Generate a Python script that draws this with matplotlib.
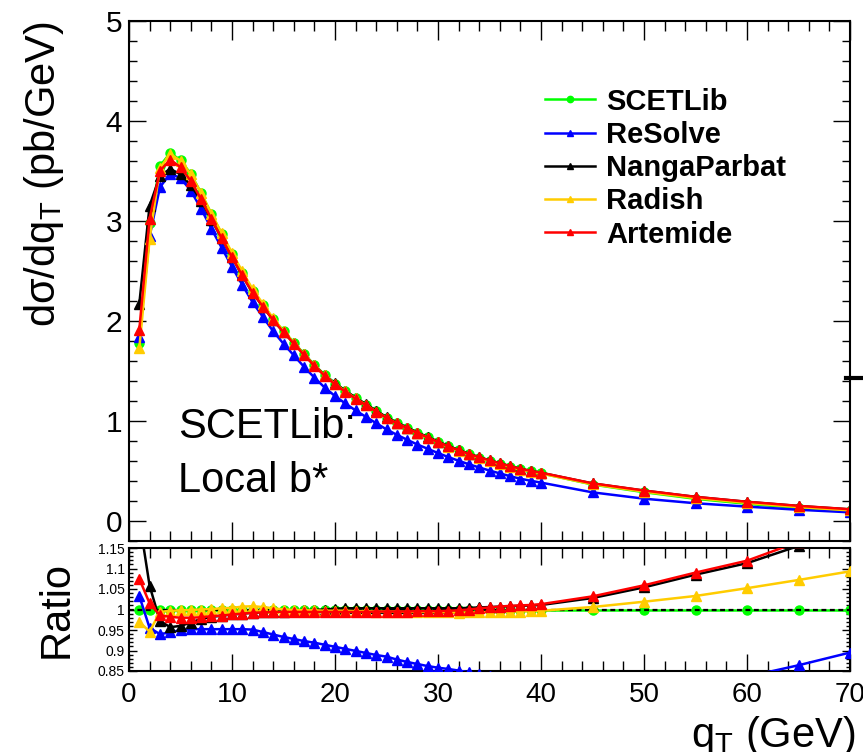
import matplotlib
matplotlib.use('Agg')
import matplotlib.pyplot as plt
from matplotlib.ticker import MultipleLocator, FuncFormatter
from matplotlib.lines import Line2D
import numpy as np

plt.rcParams['font.family'] = ['Liberation Sans', 'DejaVu Sans']
plt.rcParams['mathtext.fontset'] = 'custom'
plt.rcParams['mathtext.rm'] = 'Liberation Sans'
plt.rcParams['mathtext.it'] = 'Liberation Sans:italic'

# ---------------- data ----------------
qT = list(range(1, 41)) + [45, 50, 55, 60, 65, 70]

scetlib = [1.78, 2.98, 3.55, 3.68, 3.61, 3.47, 3.28, 3.07, 2.87, 2.67,
           2.48, 2.30, 2.16, 2.02, 1.90, 1.785, 1.67, 1.56, 1.46, 1.375,
           1.30, 1.23, 1.165, 1.10, 1.035, 0.982, 0.932, 0.882, 0.838, 0.792,
           0.748, 0.708, 0.670, 0.635, 0.603, 0.573, 0.544, 0.517, 0.496, 0.477,
           0.365, 0.288, 0.222, 0.172, 0.130, 0.097]

ratio_resolve = [1.033, 0.955, 0.940, 0.944, 0.950, 0.952, 0.952, 0.952, 0.952, 0.952,
                 0.952, 0.951, 0.945, 0.939, 0.933, 0.928, 0.923, 0.919, 0.914, 0.909,
                 0.904, 0.899, 0.894, 0.889, 0.885, 0.878, 0.872, 0.867, 0.862, 0.858,
                 0.855, 0.851, 0.847, 0.843, 0.837, 0.831, 0.824, 0.818, 0.811, 0.805,
                 0.785, 0.775, 0.800, 0.836, 0.864, 0.895]

ratio_nanga = [1.220, 1.058, 0.972, 0.957, 0.960, 0.968, 0.977, 0.982, 0.985, 0.988,
               0.990, 0.992, 0.993, 0.994, 0.995, 0.996, 0.998, 0.999, 1.000, 1.002,
               1.003, 1.003, 1.003, 1.003, 1.003, 1.003, 1.003, 1.003, 1.003, 1.003,
               1.003, 1.003, 1.004, 1.005, 1.006, 1.007, 1.008, 1.009, 1.010, 1.011,
               1.028, 1.054, 1.085, 1.113, 1.155, 1.200]

ratio_radish = [0.970, 0.946, 0.994, 0.997, 0.998, 0.999, 1.000, 1.001, 1.003, 1.004,
                1.007, 1.008, 1.006, 1.003, 1.000, 0.999, 0.998, 0.998, 0.997, 0.997,
                0.997, 0.996, 0.996, 0.995, 0.995, 0.995, 0.994, 0.994, 0.994, 0.993,
                0.993, 0.992, 0.993, 0.993, 0.994, 0.994, 0.995, 0.995, 0.996, 0.997,
                1.006, 1.019, 1.033, 1.052, 1.072, 1.093]

ratio_artemide = [1.075, 1.015, 0.986, 0.982, 0.980, 0.980, 0.981, 0.984, 0.985, 0.988,
                  0.990, 0.992, 0.993, 0.994, 0.994, 0.994, 0.994, 0.994, 0.994, 0.994,
                  0.994, 0.994, 0.994, 0.995, 0.995, 0.995, 0.995, 0.996, 0.996, 0.996,
                  0.997, 0.998, 1.000, 1.003, 1.005, 1.007, 1.009, 1.010, 1.011, 1.013,
                  1.032, 1.059, 1.090, 1.119, 1.165, 1.210]

names = ['SCETLib', 'ReSolve', 'NangaParbat', 'Radish', 'Artemide']
colors = ['#00ff00', '#0000ff', '#000000', '#ffcc00', '#ff0000']
markers = ['o', '^', '^', '^', '^']

# ---------------- figure ----------------
W, H = 863, 752
fig = plt.figure(figsize=(W / 100, H / 100), dpi=100)

def frac(x0, y0, x1, y1):
    return [x0 / W, 1 - y1 / H, (x1 - x0) / W, (y1 - y0) / H]

ax = fig.add_axes(frac(129, 21, 850, 541))
axr = fig.add_axes(frac(129, 548, 850, 671))

x = np.array(qT, dtype=float)
ref = np.array(scetlib)
ratios = [np.ones_like(ref), np.array(ratio_resolve), np.array(ratio_nanga),
          np.array(ratio_radish), np.array(ratio_artemide)]

lw = 1.8
ms = 6.5
handles = []
for name, c, m, r in zip(names, colors, markers, ratios):
    h, = ax.plot(x, ref * r, color=c, marker=m, ms=ms, lw=lw, mec=c, mfc=c, label=name)
    handles.append(h)

# ratio panel
axr.plot(x, ratios[0], color=colors[0], marker='o', ms=ms, lw=lw, zorder=2)
axr.axhline(1.0, color='black', lw=1.6, ls=(0, (2.2, 1.6)), zorder=3)
for c, m, r in zip(colors[1:], markers[1:], ratios[1:]):
    axr.plot(x, r, color=c, marker=m, ms=ms, lw=lw, zorder=4)

# axes ranges
ax.set_xlim(0, 70)
ax.set_ylim(-0.2, 5)
axr.set_xlim(0, 70)
axr.set_ylim(0.85, 1.15)

for a in (ax, axr):
    for s in a.spines.values():
        s.set_linewidth(1.5)
    a.tick_params(which='both', direction='in', top=True, right=True, width=1.0)
    a.xaxis.set_major_locator(MultipleLocator(10))
    a.xaxis.set_minor_locator(MultipleLocator(2))

ax.yaxis.set_major_locator(MultipleLocator(1))
ax.yaxis.set_minor_locator(MultipleLocator(0.2))
ax.tick_params(axis='x', which='major', length=14, labelbottom=False)
ax.tick_params(axis='x', which='minor', length=7)
ax.tick_params(axis='y', which='major', length=12, labelsize=21.5, pad=5)
ax.tick_params(axis='y', which='minor', length=6)

axr.yaxis.set_major_locator(MultipleLocator(0.05))
axr.yaxis.set_minor_locator(MultipleLocator(0.01))
axr.yaxis.set_major_formatter(FuncFormatter(lambda v, p: '%g' % round(v, 2)))
axr.tick_params(axis='x', which='major', length=12, labelsize=20, pad=8)
axr.tick_params(axis='x', which='minor', length=7)
axr.tick_params(axis='y', which='major', length=6, labelsize=10, pad=3)
axr.tick_params(axis='y', which='minor', length=3)

# labels
ax.set_ylabel('dσ/dq$_{\\mathrm{T}}$ (pb/GeV)', fontsize=30, loc='top')
ax.yaxis.set_label_coords(-0.088, 1.0)
axr.set_ylabel('Ratio', fontsize=30)
axr.yaxis.set_label_coords(-0.073, 0.5)
axr.set_xlabel('q$_{\\mathrm{T}}$ (GeV)', fontsize=30, loc='right')
axr.xaxis.set_label_coords(1.007, -0.62)
axr.xaxis.label.set_va('baseline')

# annotation
ax.text(0.068, (541 - 438) / 520, 'SCETLib:', transform=ax.transAxes, fontsize=30,
        ha='left', va='baseline')
ax.text(0.068, (541 - 492) / 520, 'Local b*', transform=ax.transAxes, fontsize=30,
        ha='left', va='baseline')

# legend
leg = ax.legend(handles=handles, loc='upper left', bbox_to_anchor=(0.577, 0.872),
                frameon=False, prop={'weight': 'bold', 'size': 21},
                handlelength=1.7, handletextpad=0.4, labelspacing=0.18,
                markerscale=0.7, borderpad=0, borderaxespad=0)

# small artifact from neighbouring panel at the right edge
fig.add_artist(Line2D([846 / W, 1.0], [1 - 378 / H, 1 - 378 / H], color='black', lw=3))

fig.savefig('out.png', dpi=100)
